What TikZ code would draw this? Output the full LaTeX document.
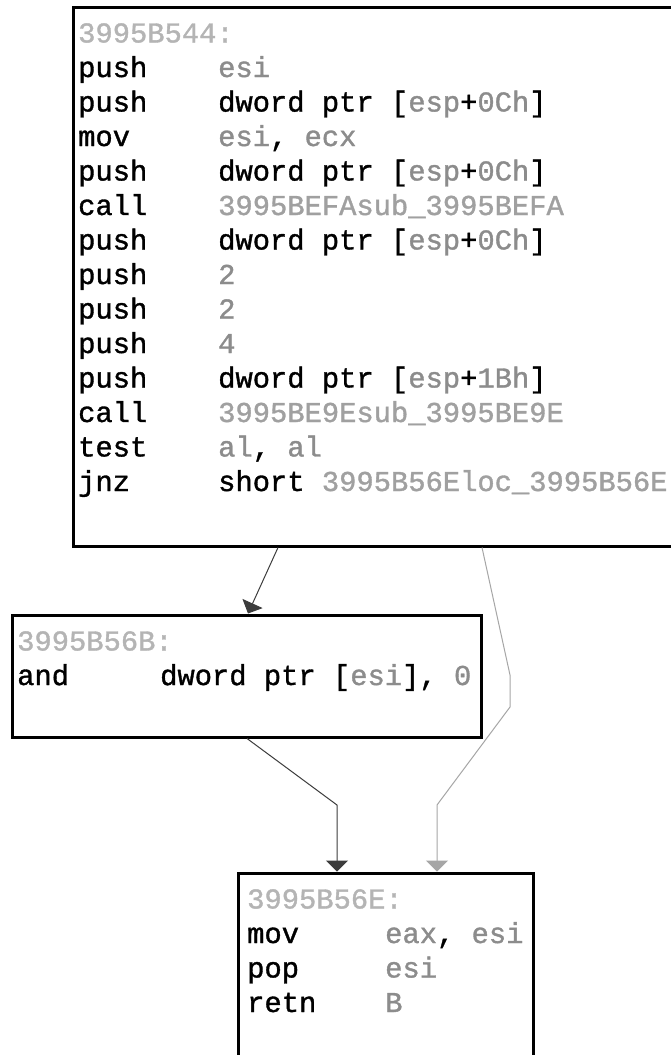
\documentclass[tikz,border=0pt]{standalone}
\usepackage{fontspec}
\newfontfamily\asmfont[FakeBold=1.2]{Liberation Mono}
\usetikzlibrary{arrows.meta}
\definecolor{opgray}{HTML}{8C8C8C}
\definecolor{lblgray}{HTML}{B4B4B4}
\definecolor{refgray}{HTML}{A0A0A0}
\definecolor{edgedark}{HTML}{3C3C3C}
\definecolor{edgelight}{HTML}{A6A6A6}
\newcommand\op[1]{\textcolor{opgray}{#1}}
\newcommand\rf[1]{\textcolor{refgray}{#1}}
% one disassembly line: name, mnemonic x, operand x, baseline y, mnemonic, operands
\newcommand\insline[6]{%
  \node[asm] (#1m) at (#2,#4) {#5};
  \node[asm] (#1o) at (#3,#4) {#6};}

\begin{document}
\begin{tikzpicture}[x=1pt,y=-1pt,
  block/.style={draw=black, line width=3pt, fill=white, inner sep=0pt, anchor=north west},
  asm/.style={anchor=base west, inner sep=0pt, font=\asmfont\fontsize{28.8}{34}\selectfont},
  lbl/.style={asm, text=lblgray},
  dk/.style={draw=edgedark, line width=1pt, -{Triangle[width=22pt,length=11pt]}},
  lt/.style={draw=edgelight, line width=1pt, -{Triangle[width=22pt,length=11pt]}},
]
\useasboundingbox (0,0) rectangle (671,1055);
\clip (0,0) rectangle (671,1055);
\fill[white] (0,0) rectangle (671,1055);

% basic blocks
\node[block, minimum width=627pt, minimum height=539pt] (top) at (71.5,5.5) {};
\node[block, minimum width=469pt, minimum height=122pt] (mid) at (10.5,613.5) {};
\node[block, minimum width=295pt, minimum height=200pt] (bot) at (236.5,871.5) {};

% block 3995B544
\node[lbl] (t0) at (78,42.5) {3995B544:};
\insline{t1}{78}{218}{77}{push}{\op{esi}}
\insline{t2}{78}{218}{111.5}{push}{dword ptr [\op{esp}+\op{0Ch}]}
\insline{t3}{78}{218}{146}{mov}{\op{esi}, \op{ecx}}
\insline{t4}{78}{218}{180.5}{push}{dword ptr [\op{esp}+\op{0Ch}]}
\insline{t5}{78}{218}{215}{call}{\rf{3995BEFAsub\_3995BEFA}}
\insline{t6}{78}{218}{249.5}{push}{dword ptr [\op{esp}+\op{0Ch}]}
\insline{t7}{78}{218}{284}{push}{\op{2}}
\insline{t8}{78}{218}{318.5}{push}{\op{2}}
\insline{t9}{78}{218}{353}{push}{\op{4}}
\insline{t10}{78}{218}{387.5}{push}{dword ptr [\op{esp}+\op{1Bh}]}
\insline{t11}{78}{218}{422}{call}{\rf{3995BE9Esub\_3995BE9E}}
\insline{t12}{78}{218}{456.5}{test}{\op{al}, \op{al}}
\insline{t13}{78}{218}{491}{jnz}{short \rf{3995B56Eloc\_3995B56E}}

% block 3995B56B
\node[lbl] (m0) at (17,650.5) {3995B56B:};
\insline{m1}{17}{160}{685}{and}{dword ptr [\op{esi}], \op{0}}

% block 3995B56E
\node[lbl] (b0) at (247,908.5) {3995B56E:};
\insline{b1}{247}{385}{943}{mov}{\op{eax}, \op{esi}}
\insline{b2}{247}{385}{977.5}{pop}{\op{esi}}
\insline{b3}{247}{385}{1012}{retn}{\op{B}}

% edge routing points
\coordinate (x1a) at (278,0);
\coordinate (x1b) at (248,0);
\coordinate (x2a) at (482,0);
\coordinate (g1) at (510,675);
\coordinate (g2) at (510,707);
\coordinate (g3) at (437,805);
\coordinate (x3a) at (247,0);
\coordinate (d1) at (337,805);

% edges
\draw[dk] (top.south -| x1a) -- (mid.north -| x1b);
\draw[lt] (top.south -| x2a) -- (g1) -- (g2) -- (g3) -- (bot.north -| g3);
\draw[dk] (mid.south -| x3a) -- (d1) -- (bot.north -| d1);
\end{tikzpicture}
\end{document}
